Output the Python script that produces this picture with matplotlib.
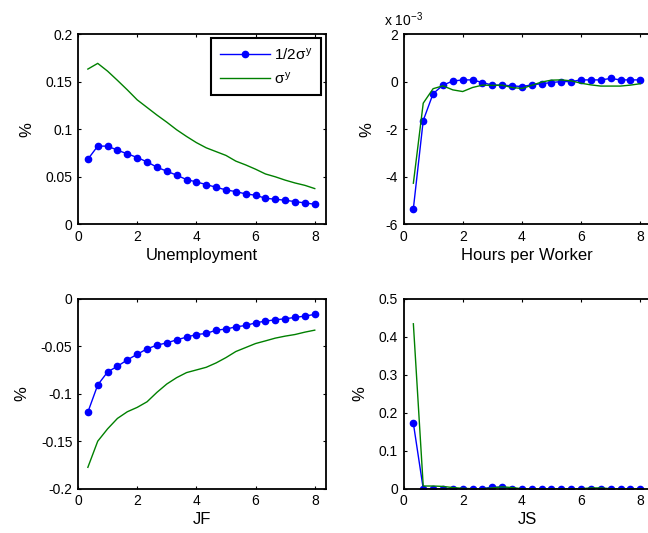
import numpy as np
import matplotlib
matplotlib.use("Agg")
import matplotlib.pyplot as plt
from matplotlib.ticker import FuncFormatter, MultipleLocator

plt.rcParams['font.family'] = ['Liberation Sans', 'DejaVu Sans']
plt.rcParams['mathtext.fontset'] = 'custom'
plt.rcParams['mathtext.rm'] = 'Liberation Sans'
plt.rcParams['mathtext.it'] = 'Liberation Sans'
plt.rcParams['mathtext.bf'] = 'Liberation Sans:bold'

# Horizon in years (quarterly steps of 1/3 year)
horizon = np.arange(1, 25) / 3.0

# Unemployment response
unemp_half = [0.0685, 0.0823, 0.0823, 0.0780, 0.0742, 0.0703, 0.0657, 0.0601,
              0.0559, 0.0517, 0.0471, 0.0446, 0.0418, 0.0390, 0.0362, 0.0344,
              0.0320, 0.0306, 0.0274, 0.0264, 0.0253, 0.0239, 0.0225, 0.0211]
unemp_full = [0.1634, 0.1694, 0.1612, 0.1515, 0.1415, 0.1310, 0.1230, 0.1150,
              0.1075, 0.0995, 0.0925, 0.0860, 0.0805, 0.0765, 0.0725, 0.0665,
              0.0625, 0.0580, 0.0530, 0.0500, 0.0465, 0.0435, 0.0410, 0.0376]

# Hours per worker response (levels, shown in units of 1e-3)
hours_half = [-5.34, -1.63, -0.50, -0.14, 0.03, 0.08, 0.08, -0.03,
              -0.14, -0.14, -0.17, -0.20, -0.13, -0.08, -0.03, 0.01,
              0.01, 0.08, 0.08, 0.08, 0.14, 0.08, 0.08, 0.08]
hours_full = [-4.27, -0.90, -0.29, -0.17, -0.34, -0.41, -0.24, -0.14,
              -0.15, -0.14, -0.24, -0.28, -0.15, -0.01, 0.07, 0.08,
              0.04, -0.06, -0.13, -0.18, -0.18, -0.18, -0.14, -0.08]
hours_half = [v * 1e-3 for v in hours_half]
hours_full = [v * 1e-3 for v in hours_full]

# Job finding rate response
jf_half = [-0.1194, -0.0908, -0.0771, -0.0711, -0.0644, -0.0585, -0.0528, -0.0489,
           -0.0465, -0.0433, -0.0405, -0.0377, -0.0366, -0.0331, -0.0320, -0.0296,
           -0.0282, -0.0254, -0.0236, -0.0222, -0.0211, -0.0197, -0.0183, -0.0165]
jf_full = [-0.1775, -0.1500, -0.1370, -0.1260, -0.1190, -0.1144, -0.1085, -0.0986,
           -0.0898, -0.0831, -0.0778, -0.0750, -0.0722, -0.0676, -0.0620, -0.0556,
           -0.0514, -0.0472, -0.0444, -0.0415, -0.0394, -0.0377, -0.0352, -0.0331]

# Job separation rate response
js_half = [0.172, 0.0, 0.0, 0.0, 0.0, 0.0, 0.0, 0.0,
           0.004, 0.004, 0.0, 0.0, 0.0, 0.0, 0.0, 0.0,
           0.0, 0.0, 0.0, 0.0, 0.0, 0.0, 0.0, 0.0]
js_full = [0.434, 0.007, 0.007, 0.006, 0.003, 0.001, 0.0, 0.0,
           0.002, 0.005, 0.003, 0.0, 0.0, 0.0, 0.0, 0.0,
           0.0, 0.0, 0.002, 0.002, 0.0, 0.0, 0.0, 0.0]

labels = ['1/2$\\sigma^{y}$', '$\\sigma^{y}$']
blue = (0, 0, 1)
green = (0, 0.5, 0)

W, H = 648, 533
fig = plt.figure(figsize=(W / 100, H / 100), dpi=100)

ax_w = 247.7 / W
ax_h = 190.0 / H
lefts = [78 / W, 403.5 / W]
bottoms = [(H - 224.3) / H, (H - 488.7) / H]

panels = [
    (unemp_half, unemp_full, 'Unemployment', (0, 0.2), 0.05, lefts[0], bottoms[0]),
    (hours_half, hours_full, 'Hours per Worker', (-6e-3, 2e-3), 2e-3, lefts[1], bottoms[0]),
    (jf_half, jf_full, 'JF', (-0.2, 0), 0.05, lefts[0], bottoms[1]),
    (js_half, js_full, 'JS', (0, 0.5), 0.1, lefts[1], bottoms[1]),
]

axes = []
for half, full, xlabel, ylim, ystep, l, b in panels:
    ax = fig.add_axes([l, b, ax_w, ax_h])
    ax.plot(horizon, half, '-o', color=blue, lw=1.0, ms=4.5, label=labels[0])
    ax.plot(horizon, full, '-', color=green, lw=1.0, label=labels[1])
    ax.set_xlim(0, 8.37)
    ax.set_ylim(*ylim)
    ax.xaxis.set_major_locator(MultipleLocator(2))
    ax.yaxis.set_major_locator(MultipleLocator(ystep))
    ax.tick_params(direction='in', length=2.5, width=0.8, top=True, right=True,
                   labelsize=10, pad=4, colors='black')
    for s in ax.spines.values():
        s.set_linewidth(1.3)
    ax.set_xlabel(xlabel, fontsize=12, labelpad=3)
    ax.set_ylabel('%', fontsize=12, labelpad=8)
    axes.append(ax)

fmt_plain = FuncFormatter(lambda v, p: '%g' % round(v, 6))
for ax in (axes[0], axes[2], axes[3]):
    ax.yaxis.set_major_formatter(fmt_plain)
axes[1].yaxis.set_major_formatter(FuncFormatter(lambda v, p: '%g' % round(v * 1e3, 6)))
axes[1].text(-0.08, 1.03, 'x 10$^{-3}$', transform=axes[1].transAxes,
             fontsize=10, ha='left', va='bottom')
for ax in axes:
    ax.xaxis.set_major_formatter(fmt_plain)

leg = axes[0].legend(loc='upper right', bbox_to_anchor=(0.981, 0.982), borderaxespad=0,
                     fancybox=False, framealpha=1, edgecolor='black', fontsize=11,
                     handlelength=3.3, handletextpad=0.25, labelspacing=0.55,
                     borderpad=0.55)
leg.get_frame().set_linewidth(1.5)

fig.savefig('out.png', dpi=100)
